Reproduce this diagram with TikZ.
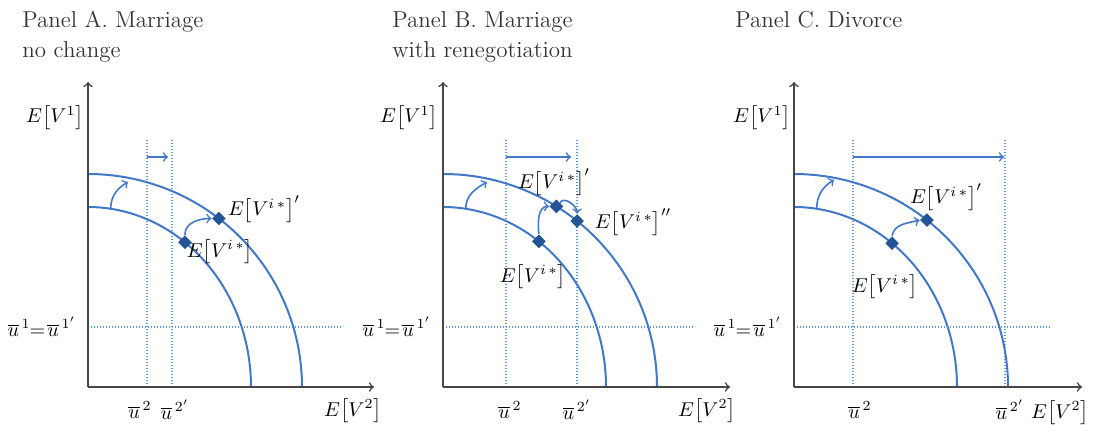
\documentclass[tikz,border=0pt]{standalone}
\usetikzlibrary{shapes.geometric}
\definecolor{curveblue}{RGB}{66,120,200}
\definecolor{dotblue}{RGB}{100,150,222}
\definecolor{pointblue}{RGB}{35,85,150}
\definecolor{axisgray}{RGB}{70,70,70}
\tikzset{
  frontier/.style = {curveblue, line width = 1pt},
  guide/.style = {dotblue, line width = 0.6pt, dash pattern = on 0.6pt off 0.9pt},
  move/.style = {curveblue, line width = 0.8pt, ->},
  optimum/.style = {diamond, fill = pointblue, inner sep = 0pt, minimum size = 7pt},
  axis/.style = {axisgray, line width = 0.8pt, ->},
  title/.style = {anchor = north west, align = left, inner sep = 0pt, font = \fontsize{11.5}{15}\selectfont, text = black!80}
}
\begin{document}
\begin{tikzpicture}[x = 0.5pt, y = 0.5pt]
\useasboundingbox (0,0) rectangle (1095,434);
% titles
\node [title] (tA) at (22,423) {Panel A. Marriage\\no change};
\node [title] (tB) at (392,423) {Panel B. Marriage\\with renegotiation};
\node [title] (tC) at (735,423) {Panel C. Divorce};
% panel A
\begin{scope}[shift = {(88,47)}]
\draw [guide] (0,60) -- (255,60);
\draw [guide] (59,0) -- (59,249);
\draw [guide] (84,0) -- (84,249);
\draw [frontier, domain = 0:90, samples = 60, smooth] plot ({163*sin(\x)}, {180*cos(\x)});
\draw [frontier, domain = 0:90, samples = 60, smooth] plot ({214*sin(\x)}, {213*cos(\x)});
\draw [axis] (0,0) -- (286,0);
\draw [axis] (0,0) -- (0,305);
\coordinate (aA) at (59,230);
\coordinate (bA) at (80,230);
\draw [move] (aA) -- (bA);
\coordinate (sA) at ({163*sin(8)}, {180*cos(8)});
\coordinate (eA) at (40,205);
\draw [move] (sA) to [out = 90, in = 210] (eA);
\node [optimum] (iA) at ({163*sin(36.5)}, {180*cos(36.5)}) {};
\node [optimum] (pA) at ({214*sin(37.7)}, {213*cos(37.7)}) {};
\draw [move] (iA.north) to [out = 92, in = 180] (pA.west);
\node (lA) at (132,135) {$E\bigl[V^{i\,*}\bigr]$};
\node (mA) at (176,178) {$E\bigl[V^{i\,*}\bigr]'$};
\node (vA) at (-33,269) {$E\bigl[V^1\bigr]$};
\node [anchor = east] (hA) at (-5,60) {$\overline{u}^{\,1}\!\!=\!\overline{u}^{\,1'}$};
\node (xA) at (52,-23) {$\overline{u}^{\,2}$};
\node (yA) at (87,-23) {$\overline{u}^{\,2'}$};
\node (wA) at (265,-24) {$E\bigl[V^2\bigr]$};
\end{scope}
% panel B
\begin{scope}[shift = {(443,47)}]
\draw [guide] (0,60) -- (250,60);
\draw [guide] (63,0) -- (63,249);
\draw [guide] (134,0) -- (134,249);
\draw [frontier, domain = 0:90, samples = 60, smooth] plot ({163*sin(\x)}, {180*cos(\x)});
\draw [frontier, domain = 0:90, samples = 60, smooth] plot ({214*sin(\x)}, {213*cos(\x)});
\draw [axis] (0,0) -- (287,0);
\draw [axis] (0,0) -- (0,305);
\coordinate (aB) at (63,230);
\coordinate (bB) at (128,230);
\draw [move] (aB) -- (bB);
\coordinate (sB) at ({163*sin(8)}, {180*cos(8)});
\coordinate (eB) at (44,205);
\draw [move] (sB) to [out = 90, in = 210] (eB);
\node [optimum] (iB) at ({163*sin(36)}, {180*cos(36)}) {};
\node [optimum] (pB) at ({214*sin(32)}, {213*cos(32)}) {};
\node [optimum] (qB) at ({214*sin(38.8)}, {213*cos(38.8)}) {};
\draw [move] (iB.north) to [out = 95, in = 180] (pB.west);
\draw [move] (pB.north east) to [out = 60, in = 90] (qB.north);
\node (lB) at (90,110) {$E\bigl[V^{i\,*}\bigr]$};
\node (mB) at (111,205) {$E\bigl[V^{i\,*}\bigr]'$};
\node (nB) at (190,165) {$E\bigl[V^{i\,*}\bigr]''$};
\node (vB) at (-34,269) {$E\bigl[V^1\bigr]$};
\node [anchor = east] (hB) at (-5,60) {$\overline{u}^{\,1}\!\!=\!\overline{u}^{\,1'}$};
\node (xB) at (67,-23) {$\overline{u}^{\,2}$};
\node (yB) at (134,-23) {$\overline{u}^{\,2'}$};
\node (wB) at (264,-24) {$E\bigl[V^2\bigr]$};
\end{scope}
% panel C
\begin{scope}[shift = {(794,47)}]
\draw [guide] (0,60) -- (256,60);
\draw [guide] (59,0) -- (59,249);
\draw [guide] (211,0) -- (211,249);
\draw [frontier, domain = 0:90, samples = 60, smooth] plot ({163*sin(\x)}, {180*cos(\x)});
\draw [frontier, domain = 0:90, samples = 60, smooth] plot ({214*sin(\x)}, {213*cos(\x)});
\draw [axis] (0,0) -- (288,0);
\draw [axis] (0,0) -- (0,305);
\coordinate (aC) at (59,230);
\coordinate (bC) at (210,230);
\draw [move] (aC) -- (bC);
\coordinate (sC) at ({163*sin(8)}, {180*cos(8)});
\coordinate (eC) at (40,207);
\draw [move] (sC) to [out = 90, in = 210] (eC);
\node [optimum] (iC) at ({163*sin(37)}, {180*cos(37)}) {};
\node [optimum] (pC) at ({214*sin(38.4)}, {213*cos(38.4)}) {};
\draw [move] (iC.north) to [out = 80, in = 195] (pC.west);
\node (lC) at (91,100) {$E\bigl[V^{i\,*}\bigr]$};
\node (mC) at (152,190) {$E\bigl[V^{i\,*}\bigr]'$};
\node (vC) at (-32,269) {$E\bigl[V^1\bigr]$};
\node [anchor = east] (hC) at (-5,60) {$\overline{u}^{\,1}\!\!=\!\overline{u}^{\,1'}$};
\node (xC) at (66,-23) {$\overline{u}^{\,2}$};
\node (yC) at (216,-23) {$\overline{u}^{\,2'}$};
\node (wC) at (266,-26) {$E\bigl[V^2\bigr]$};
\end{scope}
\end{tikzpicture}
\end{document}
